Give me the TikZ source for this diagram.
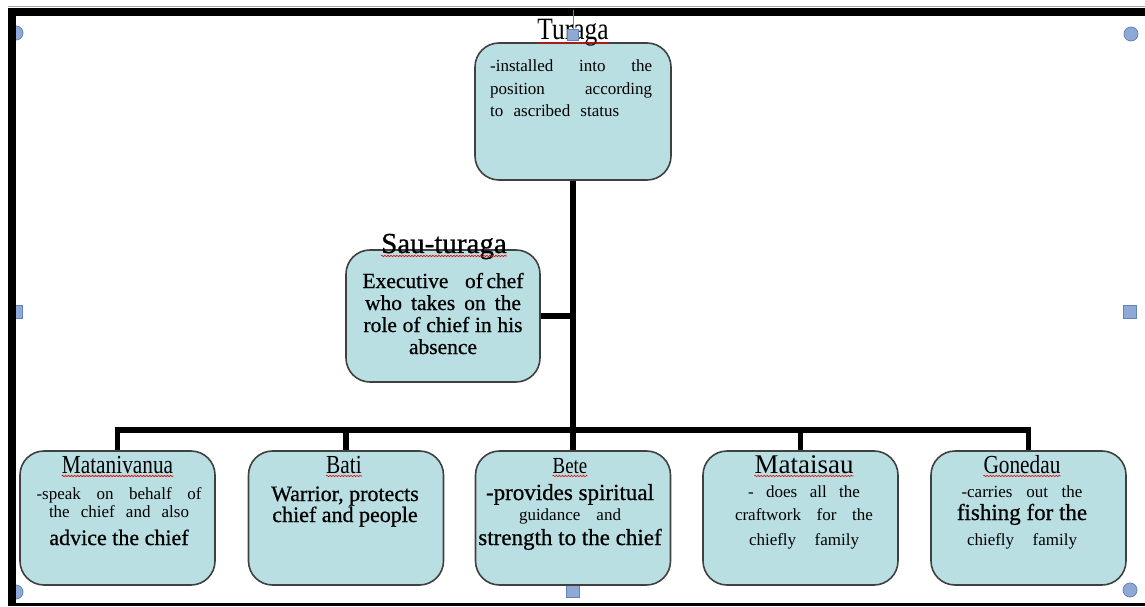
\documentclass[tikz,border=0pt]{standalone}
\usepackage{fontspec}
\setmainfont{Liberation Serif}
\newfontfamily\narrow[FakeStretch=0.82]{Liberation Serif}
\newfontfamily\heavy[FakeBold=0.7]{Liberation Serif}
\usetikzlibrary{decorations.pathmorphing}

\definecolor{boxfill}{HTML}{B9DFE3}
\definecolor{boxline}{HTML}{404040}
\definecolor{grip}{HTML}{8EA9D6}
\definecolor{gripline}{HTML}{6282BA}

\newcommand{\fs}[2]{\fontsize{#1pt}{#2pt}\selectfont}
\newcommand{\spread}[2]{\makebox[#1pt][s]{#2}}

\begin{document}
\begin{tikzpicture}[x=1pt,y=1pt,
    post/.style={draw=boxline, line width=1.6pt, fill=boxfill, rounded corners=24pt,
                 minimum width=195pt, minimum height=134pt, inner sep=0pt},
    title/.style={inner sep=0pt, anchor=base},
    body/.style={inner sep=0pt, anchor=base, align=center},
    link/.style={line width=5.5pt},
    squiggle/.style={red, line width=0.6pt, decorate,
                     decoration={snake, amplitude=0.8pt, segment length=3pt}},
    dot/.style={circle, fill=grip, draw=gripline, line width=0.8pt, minimum size=14pt, inner sep=0pt},
    knob/.style={rectangle, fill=grip, draw=gripline, line width=1pt, minimum size=13pt, inner sep=0pt}]
    \useasboundingbox (0,0) rectangle (1145,606);

    % selection handles, the left ones under the frame
    \node[dot] (gripA) at (16,573) {};
    \node[dot] (gripB) at (1131,572) {};
    \node[dot] (gripC) at (1130,16) {};
    \node[dot] (gripD) at (16,14) {};
    \node[knob] (gripE) at (15.5,294) {};
    \node[knob] (gripF) at (1130,294) {};
    \node[knob] (gripG) at (572.5,15) {};

    % frame
    \fill (8,0) rectangle (16,598);
    \fill (8,590) rectangle (1145,598);
    \fill (8,0) rectangle (1145,3.5);
    \draw[gray!70, line width=1pt] (8,599) -- (1145,599);

    % posts
    \node[post, minimum width=196pt, minimum height=137pt] (turaga) at (573,494.5) {};
    \node[post, minimum width=194pt, minimum height=132pt] (sau) at (443,290) {};
    \node[post] (matani) at (117.5,88) {};
    \node[post] (bati) at (346,88) {};
    \node[post] (bete) at (573,88) {};
    \node[post] (mataisau) at (800.5,88) {};
    \node[post] (gonedau) at (1028.5,88) {};

    % lines
    \coordinate (hub) at (573,176);
    \draw[link] (turaga.south) -- (hub);
    \draw[link] (sau.east) -- (sau.east -| hub);
    \draw[link] (matani.north) |- (hub) -| (gonedau.north);
    \draw[link] (bati.north) -- (bati.north |- hub);
    \draw[link] (bete.north) -- (hub);
    \draw[link] (mataisau.north) -- (mataisau.north |- hub);

    % titles
    \node[title, font=\narrow\fs{31}{31}] (turagaT) at (573,566) {Turaga};
    \node[title, font=\heavy\fs{29}{29}] (sauT) at (444,353) {Sau-turaga};
    \node[title, font=\narrow\fs{26}{26}] (mataniT) at (117.5,133) {Matanivanua};
    \node[title, font=\narrow\fs{26}{26}] (batiT) at (344,133) {Bati};
    \node[title, font=\narrow\fs{23}{23}] (beteT) at (570,133) {Bete};
    \node[title, font=\fs{27}{27}] (mataisauT) at (804,133) {Mataisau};
    \node[title, font=\narrow\fs{26}{26}] (gonedauT) at (1022,133) {Gonedau};
    \foreach \t in {turagaT,sauT,mataniT,batiT,beteT,mataisauT,gonedauT}
        \draw[squiggle] ([yshift=-3pt]\t.base west) -- ([yshift=-3pt]\t.base east);

    \node[knob, minimum size=11pt] (gripH) at (573,571) {};
    \draw[gripline, line width=0.8pt] (gripH.north) -- ++(0,19);

    % texts (base = last line)
    \node[body, anchor=base west, align=left, font=\fs{17}{22}] (turagaB) at (490,489)
        {\spread{162}{-installed into the}\\[1pt]\spread{162}{position according}\\\spread{129}{to ascribed status}};
    \node[body, font=\heavy\fs{21.5}{22}] (sauB) at (443,252)
        {\spread{161}{Executive of\,chef}\\\spread{156}{who takes on the}\\\spread{159}{role of chief in his}\\absence};
    \node[body, font=\fs{17}{18}] (mataniB) at (119,61)
        {\spread{165}{-speak on behalf of}\\\spread{140}{the chief and also}\\[10pt]\heavy\fs{22}{18}advice the chief};
    \node[body, font=\heavy\fs{22}{21}] (batiB) at (345,84)
        {Warrior, protects\\chief and people};
    \node[body, font=\heavy\fs{23}{20}] (beteB) at (570,61)
        {-provides spiritual\\\rmfamily\fs{17}{20}\spread{102}{guidance and}\\[5pt]strength to the chief};
    \node[body, font=\fs{17}{23}] (mataisauB) at (804,61)
        {\spread{112}{- does all the}\\\spread{138}{craftwork for the}\\[2pt]\spread{110}{chiefly family}};
    \node[body, font=\fs{17}{23}] (gonedauB) at (1022,61)
        {\spread{121}{-carries out the}\\\heavy\fs{23}{23}fishing for the\\[2pt]\spread{110}{chiefly family}};
\end{tikzpicture}
\end{document}
